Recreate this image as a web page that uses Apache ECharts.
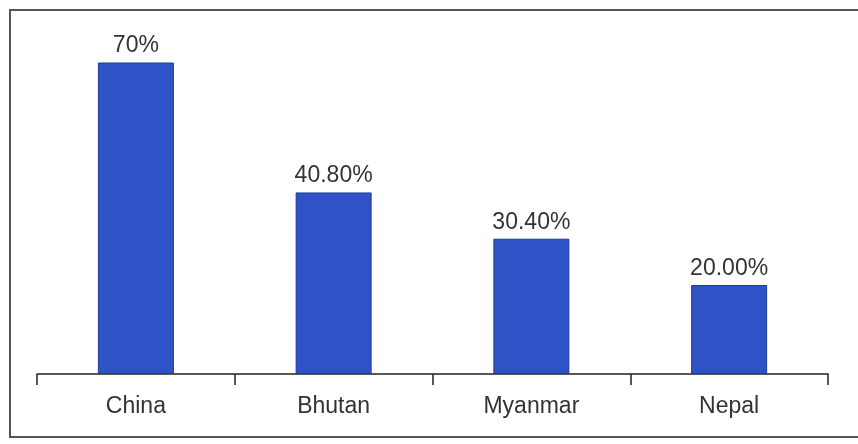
<!DOCTYPE html>
<html>
<head>
<meta charset="utf-8">
<script src="https://cdn.jsdelivr.net/npm/echarts@6/dist/echarts.min.js"></script>
<style>
  html, body { margin: 0; padding: 0; background: #fff; }
  #chart { width: 858px; height: 444px; }
</style>
</head>
<body>
<div id="chart"></div>
<script>
// data
const countries = ['China', 'Bhutan', 'Myanmar', 'Nepal']
const shares = [70, 40.8, 30.4, 20.0]
const shareLabels = ['70%', '40.80%', '30.40%', '20.00%']

const myChart = echarts.init(document.getElementById('chart'))

const option = {
  backgroundColor: '#fff',
  animation: false,
  // frame around the chart (scanned page border)
  graphic: [
    {
      type: 'rect',
      shape: { x: 10, y: 10, width: 880, height: 427 },
      style: { fill: 'none', stroke: '#555', lineWidth: 2 },
      silent: true,
    },
  ],
  grid: { left: 37, right: 30, top: 18, bottom: 70 },
  xAxis: {
    type: 'category',
    data: countries,
    axisLine: { lineStyle: { color: '#222', width: 1.5 } },
    axisTick: { show: true, length: 11, lineStyle: { color: '#222', width: 1.5 } },
    axisLabel: {
      color: '#333',
      fontSize: 23,
      margin: 21,
      fontFamily: 'Liberation Sans, Arial, sans-serif',
    },
  },
  yAxis: {
    type: 'value',
    min: 0,
    max: 80,
    show: false,
  },
  series: [
    {
      type: 'bar',
      data: shares,
      barWidth: 76,
      itemStyle: { color: '#2f52c6', borderColor: '#1d3b9e', borderWidth: 1 },
      label: {
        show: true,
        position: 'top',
        distance: 5,
        color: '#333',
        fontSize: 23,
        fontFamily: 'Liberation Sans, Arial, sans-serif',
        formatter: (p) => shareLabels[p.dataIndex],
      },
    },
  ],
}

option && myChart.setOption(option)
</script>
</body>
</html>
